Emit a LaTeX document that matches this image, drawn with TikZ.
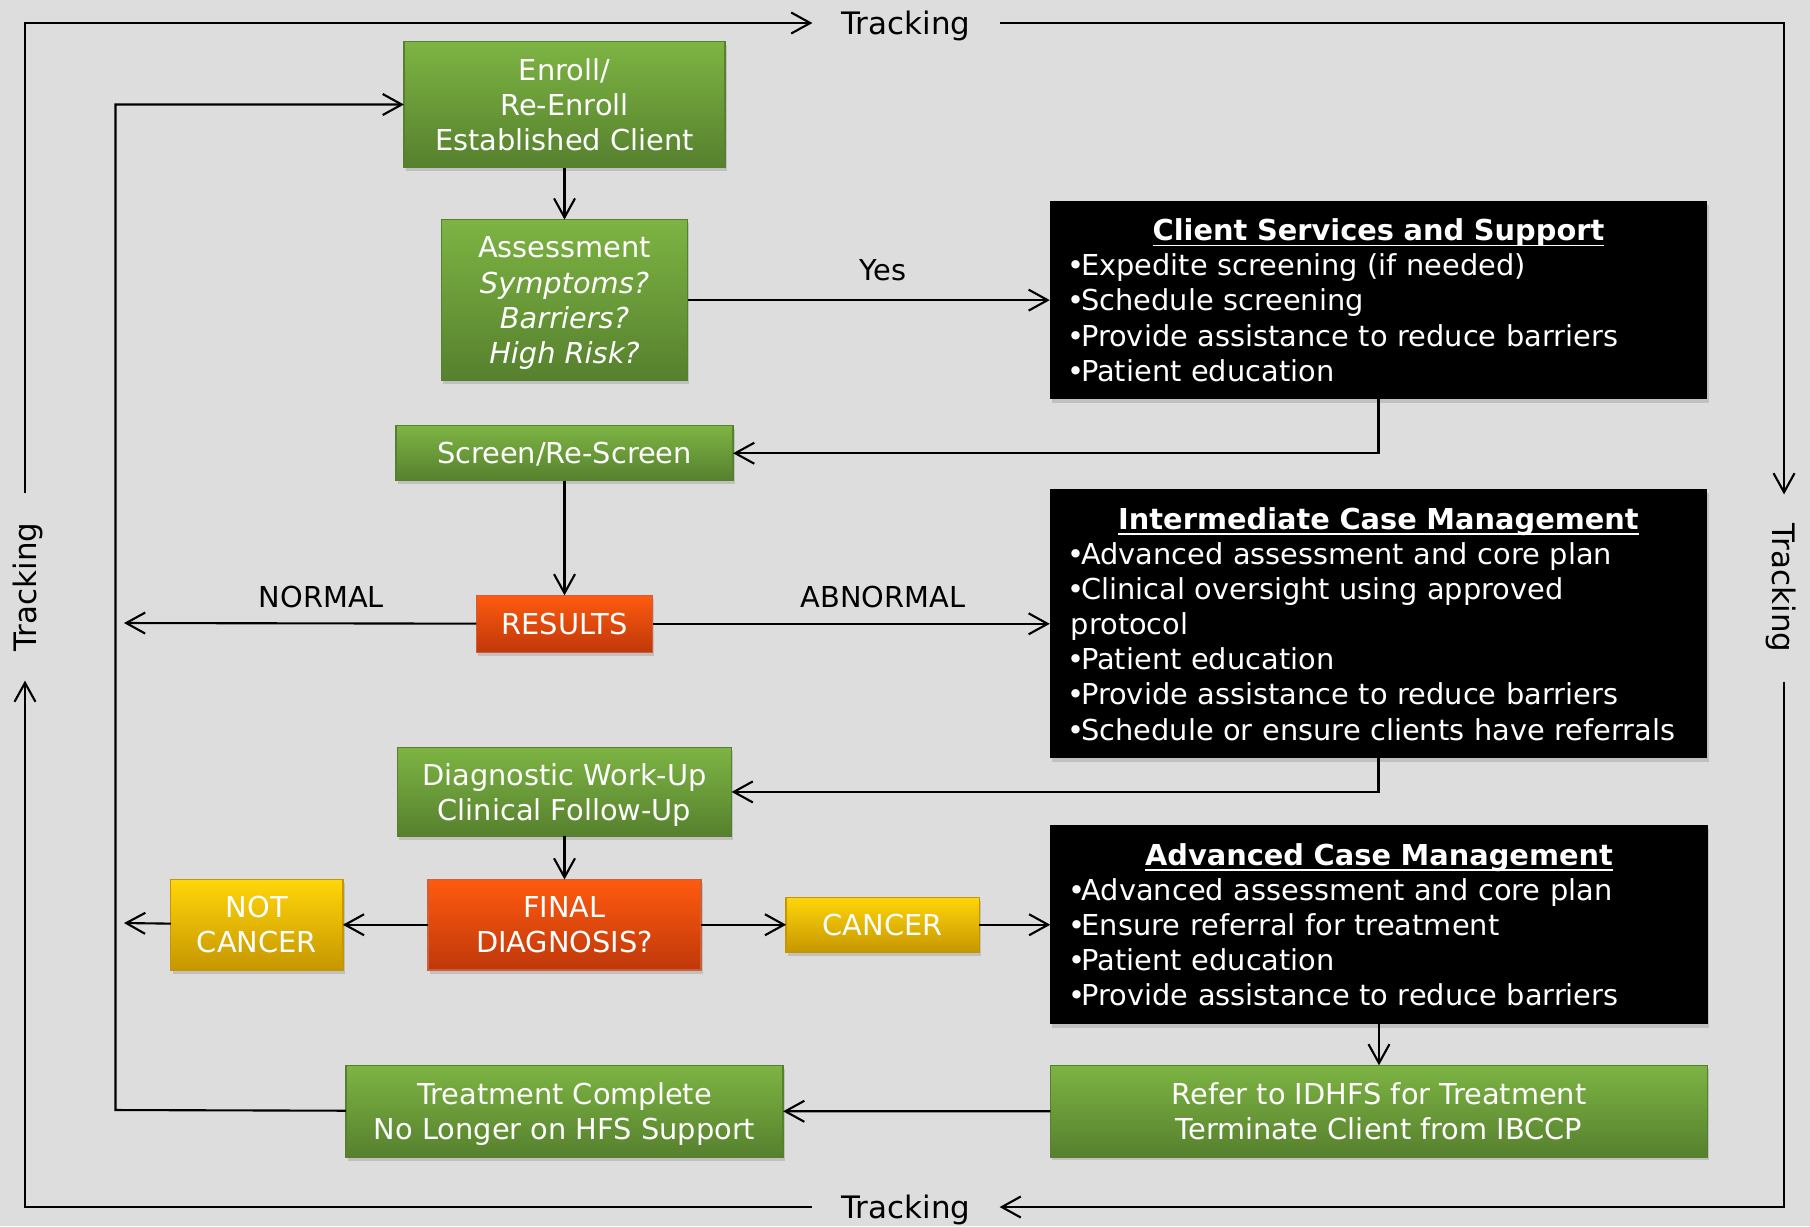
\documentclass[tikz,border=0pt]{standalone}
\usepackage{fontspec}
\setmainfont{DejaVu Sans}
\usetikzlibrary{positioning,shadows,arrows.meta}

\definecolor{bggray}{HTML}{DDDDDD}
\definecolor{grtop}{HTML}{7DB443}
\definecolor{grbot}{HTML}{56802E}
\definecolor{rdtop}{HTML}{FF5A0F}
\definecolor{rdbot}{HTML}{BF380A}
\definecolor{yltop}{HTML}{FFD60A}
\definecolor{ylbot}{HTML}{C69600}

\hyphenpenalty=10000
\newcommand{\boxtitle}[1]{\makebox[\hsize]{\underline{\raisebox{0pt}[\height][0pt]{\bfseries #1}}}}
\newcommand{\bul}{\makebox[0.36em]{•}}

\begin{document}
\begin{tikzpicture}[x=0.01cm,y=-0.01cm,>={Straight Barb[length=1.9mm,width=2.1mm]},line width=0.6pt,
    font=\fontsize{8.2}{10}\selectfont,
    box/.style={rectangle,inner sep=0pt,outer sep=0pt,align=center,text=white,
        drop shadow={shadow xshift=0.5pt,shadow yshift=-1pt,opacity=0.3}},
    green node/.style={box,top color=grtop,bottom color=grbot,draw=grbot,line width=0.4pt,text depth=0pt},
    red node/.style={box,top color=rdtop,bottom color=rdbot,draw=rdbot!80,line width=0.4pt},
    yellow node/.style={box,top color=yltop,bottom color=ylbot,draw=ylbot,line width=0.4pt},
    black node/.style={box,fill=black,text width=6.15cm,align=left,inner xsep=0.21cm},
    track/.style={minimum width=1.85cm,inner sep=0pt,text depth=0pt,font=\fontsize{8.8}{10}\selectfont}]

    \fill[bggray] (0,0) rectangle (1810,1226);
    \useasboundingbox (0,0) rectangle (1810,1226);

    % middle column
    \node[green node,minimum width=3.21cm,minimum height=1.26cm] (enroll) at (564.5,104.5) {Enroll/\\Re-Enroll\\Established Client};
    \node[green node,minimum width=2.46cm,minimum height=1.61cm] (assess) [below=0.52cm of enroll] {Assessment\\\textit{Symptoms?}\\\textit{Barriers?}\\\textit{High Risk?}};
    \node[green node,minimum width=3.37cm,minimum height=0.55cm] (screen) [below=0.45cm of assess] {Screen/Re-Screen};
    \node[red node,minimum width=1.76cm,minimum height=0.57cm] (results) [below=1.145cm of screen] {RESULTS};
    \node[green node,minimum width=3.34cm,minimum height=0.89cm] (diag) [below=0.95cm of results] {Diagnostic Work-Up\\Clinical Follow-Up};
    \node[red node,minimum width=2.73cm,minimum height=0.905cm] (final) [below=0.43cm of diag] {FINAL\\DIAGNOSIS?};
    \node[yellow node,minimum width=1.72cm,minimum height=0.905cm] (notcancer) [left=0.85cm of final] {NOT\\CANCER};
    \node[yellow node,minimum width=1.93cm,minimum height=0.55cm] (cancer) [right=0.85cm of final] {CANCER};
    \node[green node,minimum width=4.37cm,minimum height=0.915cm] (treat) [below=0.955cm of final] {Treatment Complete\\No Longer on HFS Support};

    % right column
    \node[black node,minimum height=1.98cm] (css) [right=3.62cm of assess] {\boxtitle{Client Services and Support}\\
        \bul Expedite screening (if needed)\\\bul Schedule screening\\\bul Provide assistance to reduce barriers\\\bul Patient education};
    \node[black node,minimum height=2.69cm] (icm) [right=3.97cm of results] {\boxtitle{Intermediate Case Management}\\
        \bul Advanced assessment and core plan\\\bul Clinical oversight using approved\\protocol\\\bul Patient education\\
        \bul Provide assistance to reduce barriers\\\bul Schedule or ensure clients have referrals};
    \node[black node,minimum height=1.99cm] (acm) [right=0.71cm of cancer] {\boxtitle{Advanced Case Management}\\
        \bul Advanced assessment and core plan\\\bul Ensure referral for treatment\\\bul Patient education\\\bul Provide assistance to reduce barriers};
    \node[green node,minimum width=6.57cm,minimum height=0.915cm] (refer) [below=0.41cm of acm] {Refer to IDHFS for Treatment\\Terminate Client from IBCCP};

    % tracking loop
    \node[track] (trackT) at (906,23) {Tracking};
    \node[track,rotate=-90] (trackR) at (1784,588) {Tracking};
    \node[track] (trackB) at (906,1207) {Tracking};
    \node[track,rotate=90] (trackL) at (25,587) {Tracking};
    \coordinate (normal) at (124,623);
    \coordinate (notend) at (124,923);
    \coordinate (back) at (115.5,1110);

    \path[->]
        (enroll) edge (assess)
        (assess) edge node[above=1.7pt,pos=0.54] {Yes} (css)
        (screen) edge (results)
        (results) edge node[above=0.9pt,pos=0.58] {ABNORMAL} (icm)
        (results) edge node[above=0.9pt,pos=0.44] {NORMAL} (normal)
        (diag) edge (final)
        (final) edge (notcancer)
        (final) edge (cancer)
        (notcancer) edge (notend)
        (cancer) edge (acm)
        (acm) edge (refer)
        (refer) edge (treat)
        ;
    \draw[->] (css.south) |- (screen);
    \draw[->] (icm.south) |- (diag);
    \draw[->] (treat) -- (back) |- (enroll);

    \draw[->] (trackL.east) |- (trackT.west);
    \draw[->] (trackT.east) -| (trackR.west);
    \draw[->] (trackR.east) |- (trackB.east);
    \draw[->] (trackB.west) -| (trackL.west);
\end{tikzpicture}
\end{document}
